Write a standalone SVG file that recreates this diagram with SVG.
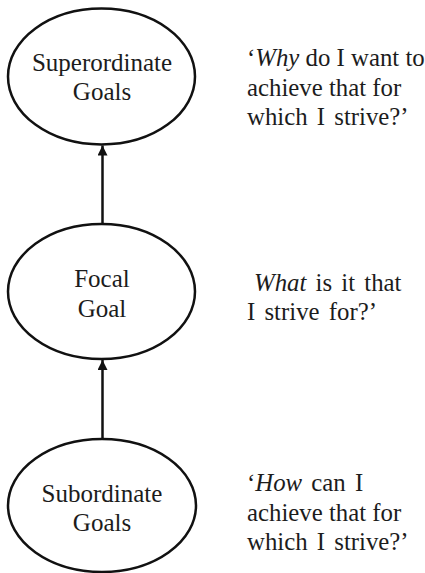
<svg xmlns="http://www.w3.org/2000/svg" width="425" height="573" viewBox="0 0 425 573">
<style>
.node ellipse{fill:#fff;stroke:#111;stroke-width:2.5}
.lbl{font-family:'Liberation Serif','Times New Roman','DejaVu Serif',serif;font-size:25px;fill:#1c1c1c;text-anchor:middle}
.note{font-family:'Liberation Serif','Times New Roman','DejaVu Serif',serif;font-size:24.8px;fill:#1c1c1c}
.edge{stroke:#111;stroke-width:2.5;fill:none}
</style>
<defs>
<marker id="ah" viewBox="0 0 10 10" refX="10" refY="5" markerWidth="4" markerHeight="4" orient="auto" markerUnits="strokeWidth">
<path d="M0,0 L10,5 L0,10 z" fill="#111"/>
</marker>
</defs>
<g id="connectors">
<line class="edge" x1="102.5" y1="224" x2="102.5" y2="145.5" marker-end="url(#ah)"/>
<line class="edge" x1="102.5" y1="439" x2="102.5" y2="360" marker-end="url(#ah)"/>
</g>
<g id="superordinate" class="node">
<ellipse cx="101.5" cy="76.5" rx="93.5" ry="68"/>
<text class="lbl" x="102" y="71">Superordinate</text>
<text class="lbl" x="102" y="100">Goals</text>
</g>
<g id="focal" class="node">
<ellipse cx="101.5" cy="291.5" rx="93.5" ry="67.5"/>
<text class="lbl" x="102" y="287">Focal</text>
<text class="lbl" x="102" y="317">Goal</text>
</g>
<g id="subordinate" class="node">
<ellipse cx="102" cy="505.5" rx="94" ry="66.5"/>
<text class="lbl" x="102" y="502">Subordinate</text>
<text class="lbl" x="102" y="531">Goals</text>
</g>
<g id="note-why">
<text class="note" x="247" y="66">‘<tspan font-style="italic">Why</tspan> do I want to</text>
<text class="note" x="247" y="96">achieve that for</text>
<text class="note" x="247" y="125" word-spacing="3">which I strive?’</text>
</g>
<g id="note-what">
<text class="note" x="254" y="291" word-spacing="3"><tspan font-style="italic">What</tspan> is it that</text>
<text class="note" x="247" y="320" word-spacing="3">I strive for?’</text>
</g>
<g id="note-how">
<text class="note" x="247" y="491" word-spacing="3">‘<tspan font-style="italic">How</tspan> can I</text>
<text class="note" x="247" y="521">achieve that for</text>
<text class="note" x="247" y="550" word-spacing="3">which I strive?’</text>
</g>
</svg>
